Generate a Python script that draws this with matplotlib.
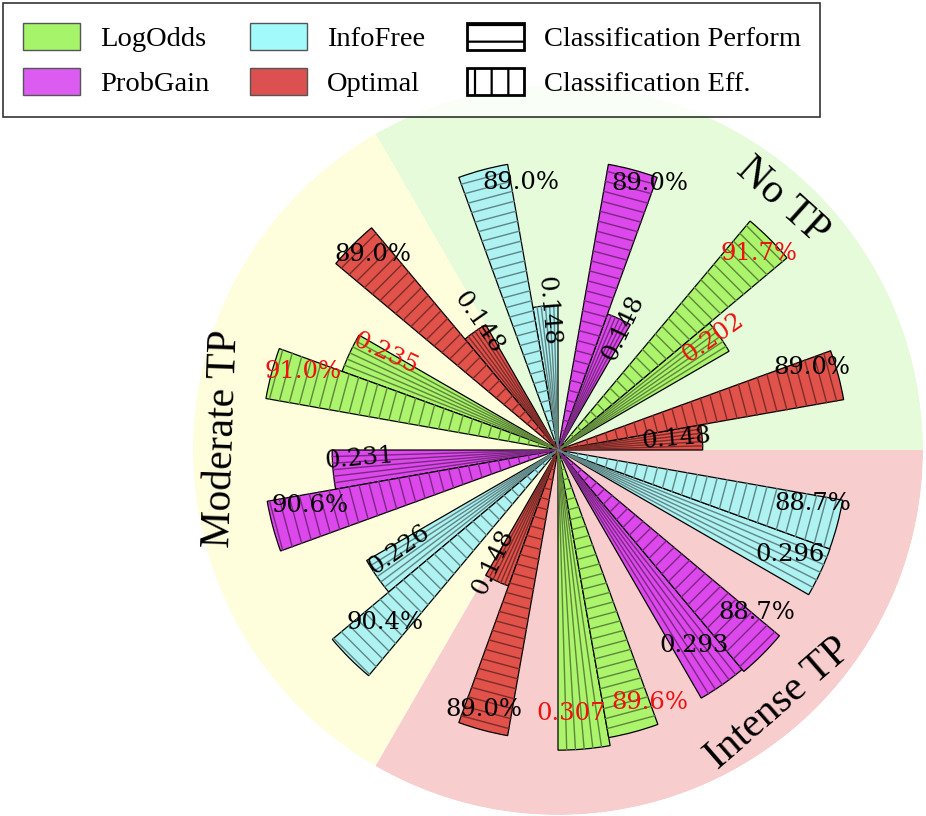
"""Polar bar chart: classification performance / efficiency by TP condition."""

import matplotlib
matplotlib.use("Agg")
import matplotlib.pyplot as plt
import numpy as np
from matplotlib.patches import Patch

# ---- data -------------------------------------------------------------
sectors = ["No TP", "Moderate TP", "Intense TP"]
sector_start_deg = [0, 120, 240]
sector_colors = ["#e6fbd9", "#fefedc", "#f7cdcd"]
sector_label_deg = [48, 178, 311]

methods = ["Optimal", "LogOdds", "ProbGain", "InfoFree"]
method_colors = ["#e0524a", "#abf46c", "#dd48ec", "#aef2f2"]
legend_colors = {"LogOdds": "#a6f46a", "ProbGain": "#dc5cf2", "InfoFree": "#a2fafa", "Optimal": "#dc5050"}

# classification performance (%) per sector, in method order
perform = {
    "No TP": [89.0, 91.7, 89.0, 89.0],
    "Moderate TP": [89.0, 91.0, 90.6, 90.4],
    "Intense TP": [89.0, 89.6, 88.7, 88.7],
}
# classification efficiency per sector, in method order
efficiency = {
    "No TP": [0.148, 0.202, 0.148, 0.148],
    "Moderate TP": [0.148, 0.235, 0.231, 0.226],
    "Intense TP": [0.148, 0.307, 0.293, 0.296],
}
eff_scale = 3.0  # efficiency drawn at 3x on the shared radial axis

# label placement tweaks (angle offset in deg, radius as fraction of bar tip)
perf_label_nudge = {
    "No TP": [(3, .92), (-0.6, .94), (-4, .97), (-7, .93)],
    "Moderate TP": [(-1.6, .93), (-2, .90), (-2.4, .86), (0, .83)],
    "Intense TP": [(-1, .93), (5, .92), (5.7, .89), (3.2, .90)],
}
eff_label_nudge = {
    "No TP": [(0.8, .82), (1, .97), (-3, .96), (-1, .96)],
    "Moderate TP": [(-3, 1.04), (-4, .86), (-2.6, .88), (-3, .85)],
    "Intense TP": [(-5, .89), (-2.2, .88), (-0.2, .83), (0.7, .88)],
}

# ---- style ------------------------------------------------------------
plt.rcParams["font.family"] = ["Liberation Serif", "DejaVu Serif"]
plt.rcParams["hatch.linewidth"] = 1.6

bar_deg = 10
rmax = 1.12
hatch_step = 0.031
value_font = dict(family="DejaVu Serif", fontsize=17.5)

fig = plt.figure(figsize=(9.26, 8.16), dpi=100)
ax = fig.add_axes([193 / 926, 1 / 816, 730 / 926, 730 / 816], projection="polar")
ax.set_ylim(0, rmax)
ax.axis("off")

# sector backgrounds
for start, col in zip(sector_start_deg, sector_colors):
    ax.bar(np.deg2rad(start + 60), rmax, width=np.deg2rad(120), bottom=0,
           color=col, edgecolor="none", zorder=0)


def hatch_color(hexcol):
    rgb = np.array(matplotlib.colors.to_rgb(hexcol))
    return tuple(rgb * 0.55)


def eff_rotation(theta_deg):
    if theta_deg >= 270:
        return 0
    if 90 < theta_deg < 270:
        return theta_deg - 180
    return theta_deg


for s, sector in enumerate(sectors):
    for m, method in enumerate(methods):
        col = method_colors[m]
        hc = hatch_color(col)
        txt_col = "#ee1111" if method == "LogOdds" else "black"

        # efficiency bar (first) then performance bar
        t_eff0 = sector_start_deg[s] + 30 * m
        t_perf0 = t_eff0 + bar_deg
        h_eff = efficiency[sector][m] * eff_scale
        h_perf = perform[sector][m] / 100.0

        for t0, h in ((t_eff0, h_eff), (t_perf0, h_perf)):
            ax.bar(np.deg2rad(t0 + bar_deg / 2), h, width=np.deg2rad(bar_deg), bottom=0,
                   color=col, edgecolor="black", linewidth=0.9, zorder=2)

        # efficiency hatch: lines along the radius
        for k in range(1, 6):
            th = np.deg2rad(t_eff0 + k * bar_deg / 6)
            ax.plot([th, th], [0, h_eff], color=hc, lw=1.0, zorder=3)
        # performance hatch: lines across the bar
        for r in np.arange(hatch_step, h_perf, hatch_step):
            ax.plot([np.deg2rad(t_perf0), np.deg2rad(t_perf0 + bar_deg)], [r, r],
                    color=hc, lw=1.0, zorder=3)

        # labels
        da, fr = perf_label_nudge[sector][m]
        tc_perf = t_perf0 + bar_deg / 2
        ax.text(np.deg2rad(tc_perf + da), h_perf * fr, f"{perform[sector][m]:.1f}%",
                ha="center", va="center", color=txt_col, zorder=5, **value_font)
        da, fr = eff_label_nudge[sector][m]
        tc_eff = t_eff0 + bar_deg / 2
        ax.text(np.deg2rad(tc_eff + da), h_eff * fr, f"{efficiency[sector][m]:.3f}",
                ha="center", va="center", color=txt_col, rotation=eff_rotation(tc_eff),
                rotation_mode="anchor", zorder=5, **value_font)

# sector titles along the rim
for sector, ang in zip(sectors, sector_label_deg):
    rot = ang - 90 if ang < 270 else ang + 90 - 360
    ax.text(np.deg2rad(ang), 1.03, sector, ha="center", va="center",
            rotation=rot, rotation_mode="anchor", fontsize=30, zorder=5)

# legend
handles = [
    Patch(facecolor=legend_colors["LogOdds"], edgecolor="#555555", label="LogOdds"),
    Patch(facecolor=legend_colors["ProbGain"], edgecolor="#555555", label="ProbGain"),
    Patch(facecolor=legend_colors["InfoFree"], edgecolor="#555555", label="InfoFree"),
    Patch(facecolor=legend_colors["Optimal"], edgecolor="#555555", label="Optimal"),
    Patch(facecolor="white", edgecolor="black", hatch="-", linewidth=2, label="Classification Perform"),
    Patch(facecolor="white", edgecolor="black", hatch="|", linewidth=2, label="Classification Eff."),
]
leg = fig.legend(handles=handles, ncol=3, loc="upper left", bbox_to_anchor=(3 / 926, 1 - 3 / 816),
                 fontsize=20.5, frameon=True, fancybox=False, edgecolor="black",
                 handlelength=2.0, handleheight=1.1, handletextpad=0.7,
                 columnspacing=1.45, labelspacing=0.55, borderpad=0.7, borderaxespad=0)
leg.get_frame().set_linewidth(1.2)

fig.savefig("out.png", dpi=100)
